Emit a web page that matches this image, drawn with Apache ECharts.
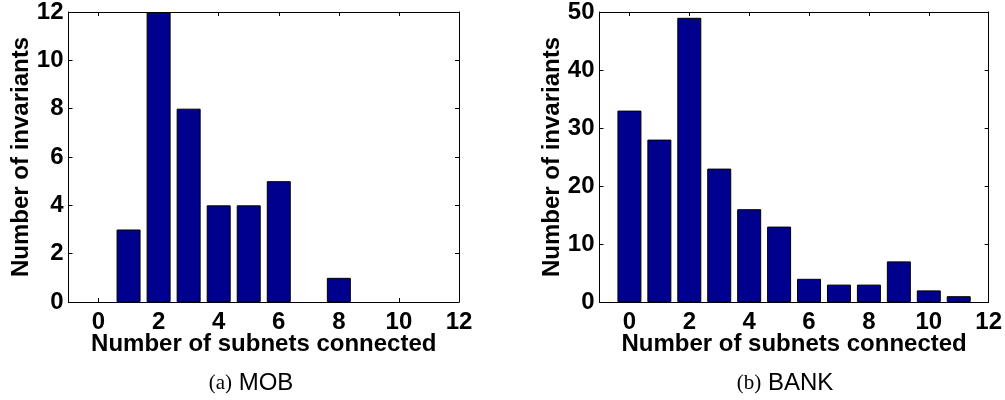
<!DOCTYPE html>
<html><head><meta charset="utf-8">
<script src="https://cdn.jsdelivr.net/npm/echarts@6/dist/echarts.min.js"></script>
<style>html,body{margin:0;padding:0;background:#fff}#c{width:1005px;height:400px}</style>
</head><body><div id="c"></div>
<script>
const subnets = [0, 1, 2, 3, 4, 5, 6, 7, 8, 9, 10, 11];
const mobInvariants = [0, 3, 12, 8, 4, 4, 5, 0, 1, 0, 0, 0];
const bankInvariants = [33, 28, 49, 23, 16, 13, 4, 3, 3, 7, 2, 1];
const xTickValues = [0, 2, 4, 6, 8, 10, 12];
const xAxisTitle = 'Number of subnets connected';
const yAxisTitle = 'Number of invariants';
const captionLabels = ['(a)', '(b)'];
const captionNames = ['MOB', 'BANK'];

const SANS = 'Liberation Sans, Arial, sans-serif';
const SERIF = 'Liberation Serif, Times New Roman, serif';
const BAR = '#00008F';
const FS = 24;

const panels = [
  { values: mobInvariants, yMax: 12, yInt: 2, grid: { left: 68.5, top: 8, width: 390.5, height: 294 }, cap: 251 },
  { values: bankInvariants, yMax: 50, yInt: 10, grid: { left: 599.5, top: 7.5, width: 390.5, height: 294.5 }, cap: 785 }
];

const grid = [], xAxis = [], yAxis = [], series = [], graphic = [];
panels.forEach((p, i) => {
  grid.push(Object.assign({ show: false, containLabel: false }, p.grid));
  const axLine = { show: true, onZero: false, lineStyle: { color: '#000', width: 1 } };
  const tick = { show: true, inside: true, length: 4, lineStyle: { color: '#000', width: 1 }, customValues: xTickValues };
  const lbl = { show: true, color: '#000', fontFamily: SANS, fontWeight: 'bold', fontSize: FS };
  const nameStyle = { color: '#000', fontFamily: SANS, fontWeight: 'bold', fontSize: FS };
  xAxis.push({
    gridIndex: i, type: 'value', position: 'bottom', min: -1, max: 12,
    axisLine: axLine, axisTick: tick, splitLine: { show: false },
    axisLabel: Object.assign({ margin: 8, customValues: xTickValues }, lbl),
    name: xAxisTitle, nameLocation: 'middle', nameGap: 30, nameMoveOverlap: false, nameTextStyle: nameStyle
  });
  xAxis.push({
    gridIndex: i, type: 'value', position: 'top', min: -1, max: 12,
    axisLine: axLine, axisTick: tick, splitLine: { show: false },
    axisLabel: { show: false }
  });
  const ytick = { show: true, inside: true, length: 4, lineStyle: { color: '#000', width: 1 } };
  yAxis.push({
    gridIndex: i, type: 'value', position: 'left', min: 0, max: p.yMax, interval: p.yInt,
    axisLine: axLine, axisTick: ytick, splitLine: { show: false },
    axisLabel: Object.assign({ margin: 5 }, lbl),
    name: yAxisTitle, nameLocation: 'middle', nameGap: 35, nameMoveOverlap: false, nameRotate: 90, nameTextStyle: nameStyle
  });
  yAxis.push({
    gridIndex: i, type: 'value', position: 'right', min: 0, max: p.yMax, interval: p.yInt,
    axisLine: axLine, axisTick: ytick, splitLine: { show: false },
    axisLabel: { show: false }
  });
  series.push({
    type: 'bar', xAxisIndex: 2 * i, yAxisIndex: 2 * i,
    barWidth: 24,
    itemStyle: { color: BAR, borderColor: '#000', borderWidth: 1 },
    data: subnets.map((x, k) => p.values[k] === 0
      ? { value: [x, p.values[k]], itemStyle: { borderWidth: 0 } }
      : [x, p.values[k]]),
    animation: false
  });
  graphic.push({
    type: 'text', x: p.cap, y: 383,
    style: {
      text: '{a|' + captionLabels[i] + '}  {b|' + captionNames[i] + '}',
      align: 'center', verticalAlign: 'middle',
      rich: {
        a: { fontFamily: SERIF, fontSize: 21, fill: '#000' },
        b: { fontFamily: SANS, fontSize: 24, fill: '#000' }
      }
    }
  });
});

const chart = echarts.init(document.getElementById('c'), null, { renderer: 'canvas' });
chart.setOption({ animation: false, backgroundColor: '#fff', grid, xAxis, yAxis, series, graphic });
</script></body></html>
